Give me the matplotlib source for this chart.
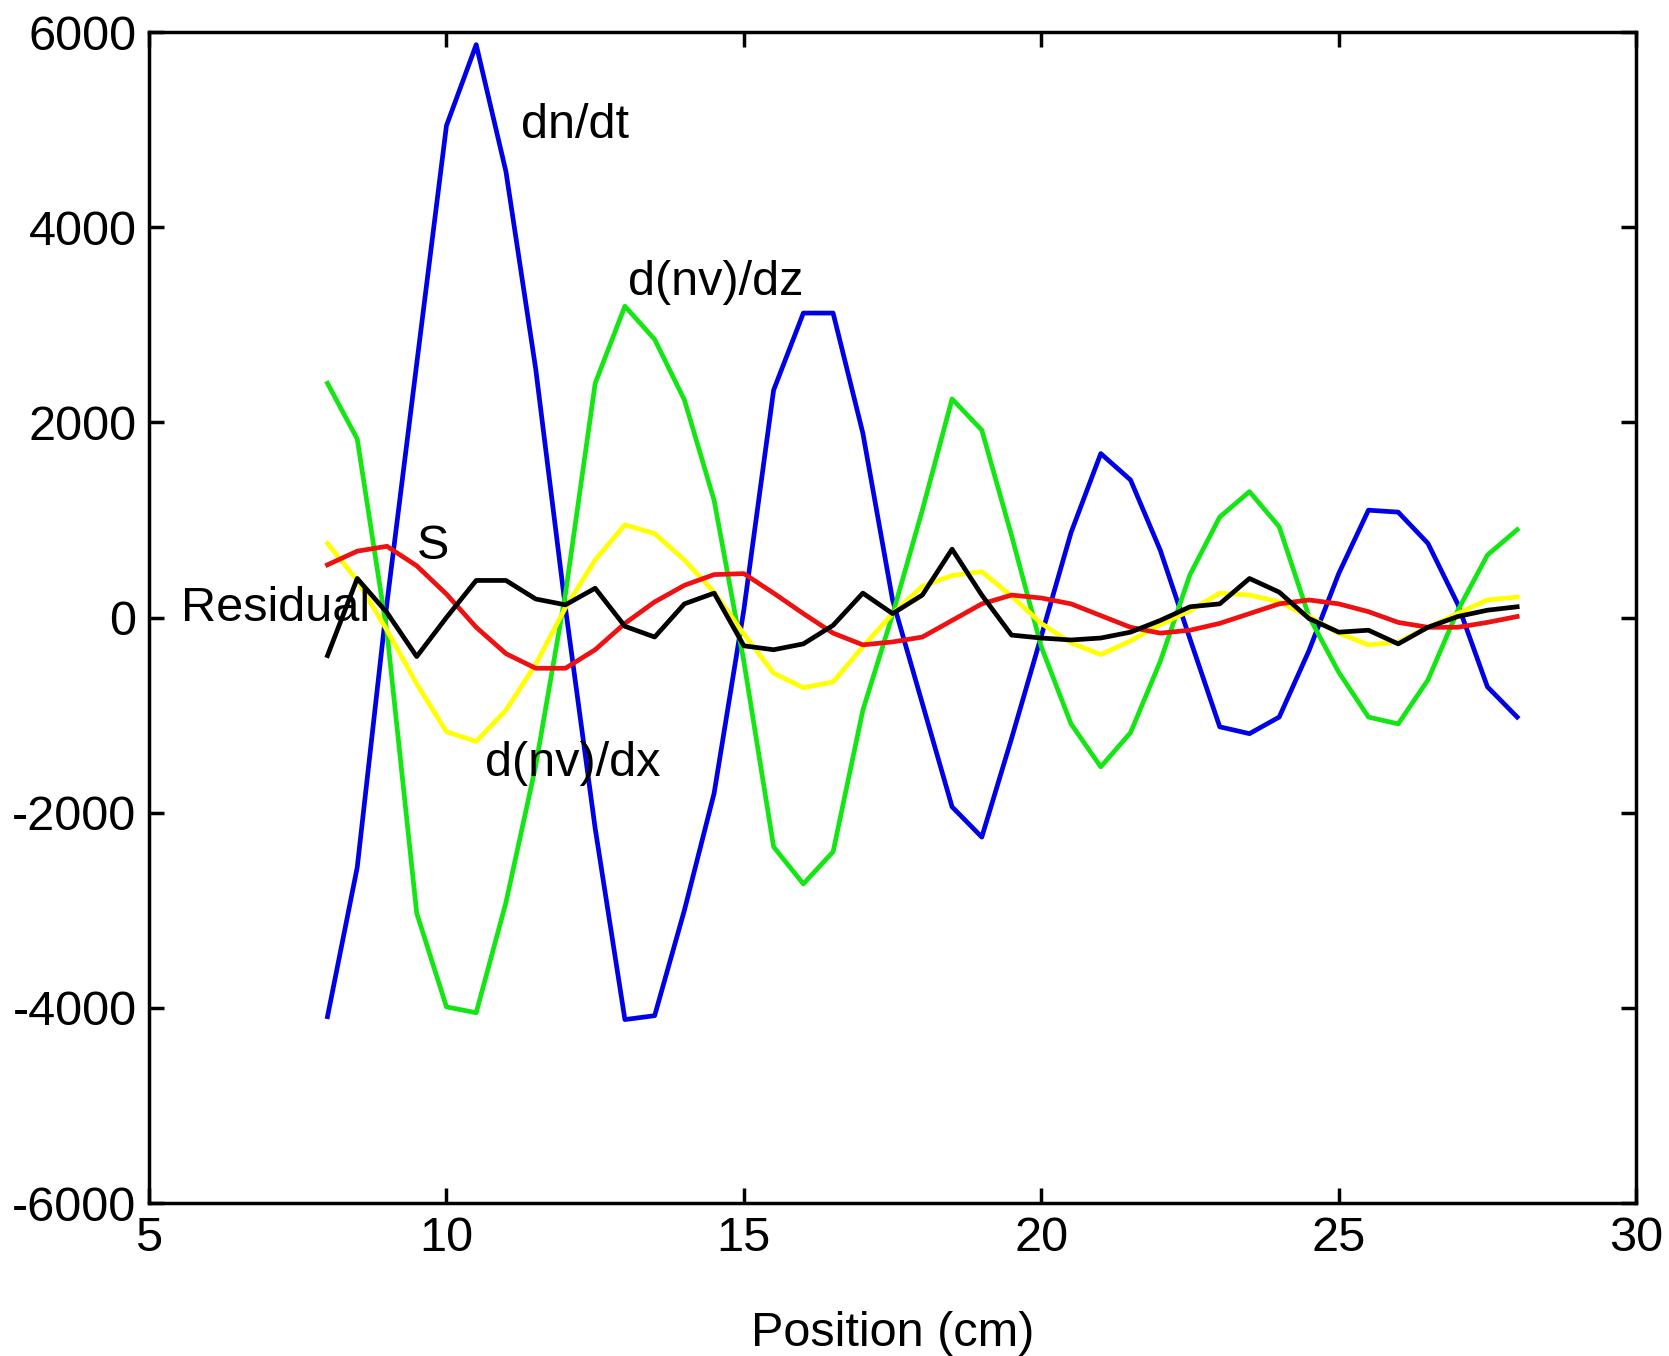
import numpy as np
import matplotlib
matplotlib.use("Agg")
import matplotlib.pyplot as plt

plt.rcParams['font.family'] = ['Liberation Sans', 'DejaVu Sans']
plt.rcParams['axes.unicode_minus'] = False

# positions 8 .. 28 cm, step 0.5
position = np.arange(8.0, 28.01, 0.5)

dn_dt = [-4090, -2560, 150, 2600, 5040, 5870, 4570, 2550, 100, -2160,
         -4120, -4080, -3000, -1800, 80, 2330, 3120, 3120, 1890, 180,
         -880, -1940, -2250, -1240, -190, 870, 1680, 1410, 690, -220,
         -1120, -1190, -1020, -340, 450, 1100, 1080, 760, 140, -710, -1020]

dnv_dz = [2400, 1830, -150, -3030, -3990, -4050, -2920, -1520, 240, 2400,
          3190, 2850, 2230, 1200, -450, -2350, -2730, -2400, -950, 30,
          1100, 2240, 1920, 840, -300, -1090, -1530, -1180, -450, 440,
          1030, 1290, 930, 10, -560, -1020, -1090, -640, 70, 640, 900]

dnv_dx = [760, 380, -130, -680, -1170, -1270, -950, -480, 100, 590,
          950, 860, 590, 260, -170, -570, -720, -660, -300, 40,
          320, 430, 470, 220, -60, -260, -380, -240, -70, 70,
          250, 230, 160, 10, -160, -280, -250, -100, 40, 180, 210]

source_S = [540, 680, 730, 530, 240, -100, -370, -520, -520, -330,
            -60, 160, 330, 440, 450, 250, 40, -160, -280, -250,
            -200, -30, 140, 230, 200, 140, 20, -100, -160, -130,
            -60, 40, 140, 180, 140, 60, -50, -100, -100, -50, 10]

residual = [-390, 400, 50, -400, 0, 380, 380, 190, 130, 300,
            -90, -200, 140, 250, -290, -330, -270, -80, 250, 40,
            230, 700, 230, -180, -210, -230, -210, -150, -30, 110,
            140, 400, 260, -10, -150, -130, -270, -100, 10, 75, 110]

fig = plt.figure(figsize=(16.69, 13.56), dpi=100)
ax = fig.add_axes([0.0893, 0.1128, 0.8910, 0.8636])

lw = 3.4
ax.plot(position, dn_dt, color='#0000e6', linewidth=lw)
ax.plot(position, dnv_dz, color='#14e614', linewidth=lw)
ax.plot(position, dnv_dx, color='#ffff00', linewidth=lw)
ax.plot(position, source_S, color='#ee1111', linewidth=lw)
ax.plot(position, residual, color='black', linewidth=lw)

fs = 35
ax.text(11.26, 5040, 'dn/dt', fontsize=fs, va='center', ha='left')
ax.text(13.05, 3430, 'd(nv)/dz', fontsize=fs, va='center', ha='left')
ax.text(9.5, 730, 'S', fontsize=fs, va='center', ha='left')
ax.text(5.54, 90, 'Residual', fontsize=fs, va='center', ha='left')
ax.text(10.65, -1500, 'd(nv)/dx', fontsize=fs, va='center', ha='left')

ax.set_xlim(5, 30)
ax.set_ylim(-6000, 6000)
ax.set_xticks([5, 10, 15, 20, 25, 30])
ax.set_yticks([-6000, -4000, -2000, 0, 2000, 4000, 6000])
ax.tick_params(direction='in', top=True, right=True, length=11, width=2.5,
               labelsize=fs, pad=9)
for s in ax.spines.values():
    s.set_linewidth(2.5)

ax.set_xlabel('Position (cm)', fontsize=fs)
ax.xaxis.set_label_coords(0.5, -0.092)

fig.savefig('out.png', dpi=100)
